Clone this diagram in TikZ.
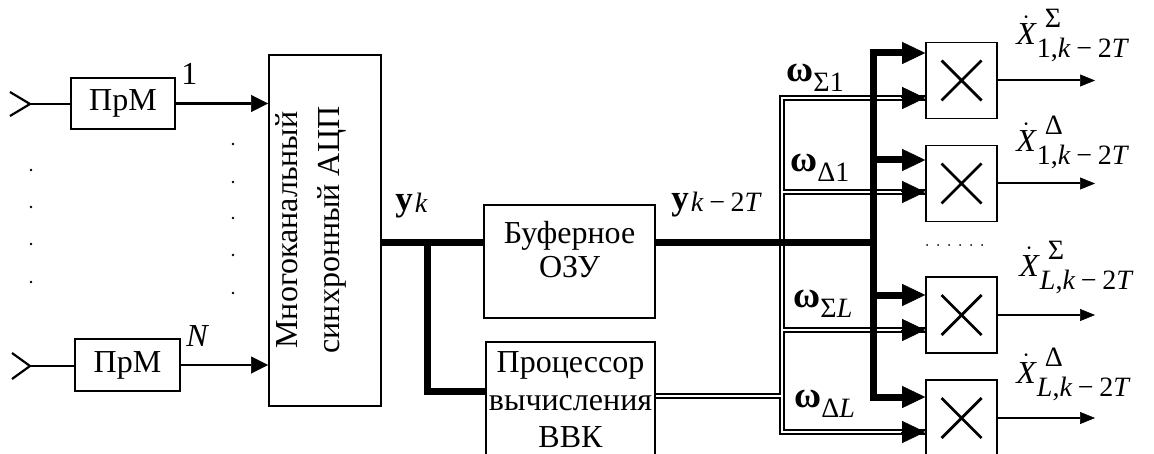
\documentclass[tikz,border=0pt]{standalone}
\usepackage{amsmath}
\usepackage{fontspec}
\setmainfont{Liberation Serif}
\usetikzlibrary{arrows.meta}
\newcommand{\mi}[1]{\text{\normalfont\itshape #1}}
\newcommand{\sfnt}{\fontsize{14}{14}\selectfont}
\newcommand{\mns}{\kern0.2em−\kern0.2em}
\newcommand{\xlab}[2]{$\dot{\mi{X}}$\kern0.5pt\rlap{\kern4pt\raisebox{8.5pt}{\sfnt #1}}\raisebox{-6.5pt}{\sfnt #2}}
\newcommand{\wlab}[1]{{\fontsize{18.5}{18.5}\selectfont\bfseries ω}\raisebox{-5pt}{\sfnt #1}}
\newcommand{\ylab}[1]{{\fontsize{17.5}{17.5}\selectfont\bfseries y}\raisebox{-1.5pt}{\sfnt\kern1pt #1}}
\begin{document}
\begin{tikzpicture}[x=0.5pt,y=-0.5pt,
  every node/.style={font=\fontsize{16}{19}\selectfont},
  box/.style={draw, line width=0.9pt, inner sep=0pt},
  mult/.style={draw, line width=0.8pt, minimum width=35.5pt, minimum height=38pt, inner sep=0pt,
    path picture={\draw[line width=1.4pt]
      ([shift={(-10pt,-10pt)}]path picture bounding box.center) -- ([shift={(10pt,10pt)}]path picture bounding box.center)
      ([shift={(-10pt,10pt)}]path picture bounding box.center) -- ([shift={(10pt,-10pt)}]path picture bounding box.center);}},
  ln/.style={line width=1.1pt},
  arr/.style={ln, -{Triangle[length=8.5pt,width=8.5pt,line width=0.3pt]}},
  outarr/.style={line width=1pt, -{Triangle[length=7.5pt,width=6pt,line width=0.3pt]}},
  bus/.style={line width=3.5pt},
  busarr/.style={bus, -{Triangle[length=11.5pt,width=11pt,line width=0.3pt]}},
  dblout/.style={line width=3pt},
  dblin/.style={line width=1.1pt, white},
  dbltip/.style={line width=0.5pt, -{Triangle[length=11.5pt,width=11pt,line width=0.3pt]}},
  lbl/.style={anchor=base west, inner sep=0pt},
]
\useasboundingbox (0,0) rectangle (1154,454);
\fill[white] (0,0) rectangle (1154,454);

% boxes
\node[box, minimum width=52pt, minimum height=25.5pt] (prm1) at (123,103.5) {ПрМ};
\node[box, minimum width=52.5pt, minimum height=26pt] (prmN) at (127.5,365) {ПрМ};
\node[box, minimum width=56pt, minimum height=175.5pt] (adc) at (325,230.5) {};
\node[rotate=90, align=center, font=\fontsize{16}{21}\selectfont] (adct) at (311,230) {Многоканальный\\синхронный АЦП};
\node[box, minimum width=85.5pt, minimum height=56.5pt] (buf) at (569.5,261.5) {};
\node[align=center, font=\fontsize{16}{17}\selectfont] (buft) at (569.5,250) {Буферное\\ОЗУ};
\node[box, minimum width=84.5pt, minimum height=58pt, align=center, font=\fontsize{16}{18.75}\selectfont] (proc) at (570.5,400) {Процессор\\вычисления\\ВВК};
\node[mult] (m1) at (961.5,80.5) {};
\node[mult] (m2) at (961.5,183.5) {};
\node[mult] (m3) at (961.5,315) {};
\node[mult] (m4) at (961.5,418) {};

% inputs
\coordinate (in1) at (30,104);
\coordinate (in1a) at (10,92);
\coordinate (in1b) at (10,116);
\coordinate (inN) at (30,366);
\coordinate (inNa) at (12,353);
\coordinate (inNb) at (12,379);
\draw[ln] (in1a) -- (in1) -- (in1b);
\draw[ln] (in1) -- (in1 -| prm1.west);
\draw[ln] (inNa) -- (inN) -- (inNb);
\draw[ln] (inN) -- (inN -| prmN.west);
\draw[arr] (prm1.east) -- (prm1.east -| adc.west);
\draw[arr] (prmN.east) -- (prmN.east -| adc.west);

% dots
\foreach \yy in {170,207,244,282} \fill (31,\yy) circle[radius=0.7pt];
\foreach \yy in {144,182,218,255,293} \fill (233,\yy) circle[radius=0.7pt];
\foreach \xx in {927,938,949,960,971,982} \fill (\xx,245) circle[radius=0.5pt];

% double lines (weight vectors)
\coordinate (dv1) at (782,98);
\coordinate (dv2) at (782,192);
\coordinate (dv3) at (782,330);
\coordinate (dv4) at (782,432);
\coordinate (dp) at (782,396);
\coordinate (d1e) at (dv1 -| m1.west);
\coordinate (d2e) at (dv2 -| m2.west);
\coordinate (d3e) at (dv3 -| m3.west);
\coordinate (d4e) at (dv4 -| m4.west);
\foreach \st in {dblout,dblin}{
  \draw[\st] (d1e) -- (dv1) -- (dv4) -- (d4e);
  \draw[\st] (dv2) -- (d2e);
  \draw[\st] (dv3) -- (d3e);
  \draw[\st] (proc.east |- dp) -- (dp);
}
\foreach \e in {d1e,d2e,d3e,d4e} \draw[dbltip] ([xshift=-12pt]\e) -- (\e);

% thick buses
\coordinate (bk) at (427,242);
\coordinate (pj) at (427,391);
\coordinate (bj) at (873,242);
\coordinate (bv1) at (873,53);
\coordinate (bv2) at (873,160);
\coordinate (bv3) at (873,295);
\coordinate (bv4) at (873,397);
\draw[bus] (adc.east |- bk) -- (buf.west |- bk);
\draw[bus] (bk) -- (pj) -- (pj -| proc.west);
\draw[bus] (buf.east |- bj) -- (bj);
\draw[bus, line cap=rect] (bv1) -- (bv4);
\draw[busarr] (bv1) -- (bv1 -| m1.west);
\draw[busarr] (bv2) -- (bv2 -| m2.west);
\draw[busarr] (bv3) -- (bv3 -| m3.west);
\draw[busarr] (bv4) -- (bv4 -| m4.west);

% outputs
\coordinate (oend) at (1095,0);
\draw[outarr] (m1.east) -- (m1.east -| oend);
\draw[outarr] (m2.east) -- (m2.east -| oend);
\draw[outarr] (m3.east) -- (m3.east -| oend);
\draw[outarr] (m4.east) -- (m4.east -| oend);

% labels
\node[lbl] (l1) at (181,85) {1};
\node[lbl] (lN) at (186,346) {\textit{N}};
\node[lbl] (lyk) at (395,210) {\ylab{\textit{k}}};
\node[lbl] (lyk2) at (671,209) {\ylab{\textit{k}\mns2\textit{T}}};
\node[lbl] (w1) at (786,82) {\wlab{Σ1}};
\node[lbl] (w2) at (790,172) {\wlab{Δ1}};
\node[lbl] (w3) at (793,307) {\wlab{Σ\textit{L}}};
\node[lbl] (w4) at (794,407) {\wlab{Δ\textit{L}}};
\node[lbl] (x1) at (1016,45) {\xlab{Σ}{1,\textit{k}\mns2\textit{T}}};
\node[lbl] (x2) at (1016,152) {\xlab{Δ}{1,\textit{k}\mns2\textit{T}}};
\node[lbl] (x3) at (1019,276) {\xlab{Σ}{\textit{L},\textit{k}\mns2\textit{T}}};
\node[lbl] (x4) at (1016,383) {\xlab{Δ}{\textit{L},\textit{k}\mns2\textit{T}}};
\end{tikzpicture}
\end{document}
